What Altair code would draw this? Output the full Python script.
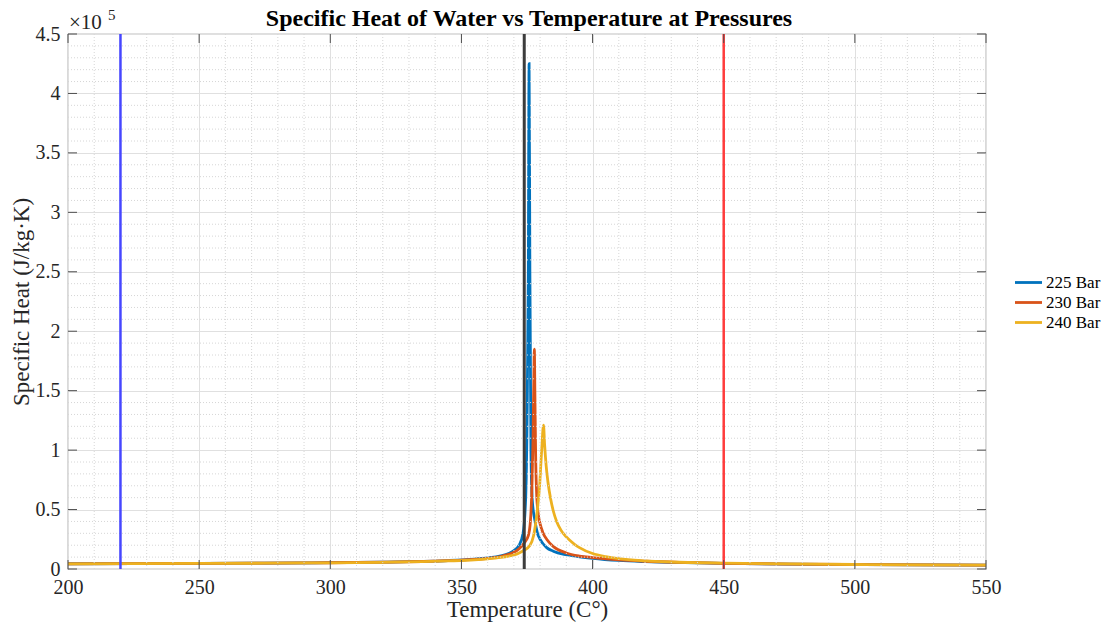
import altair as alt
import pandas as pd

# ---------------- data ----------------
pressures = ["225 Bar", "230 Bar", "240 Bar"]
series_colors = ["#0072BD", "#D95319", "#EDB120"]

t_225 = [200, 225, 250, 275, 300, 320, 335, 345, 355, 360, 365, 368, 370, 372, 373.5,
         374.5, 375.0, 375.5, 375.8, 376.1, 376.5, 377.0, 378.0, 379.0, 380.0,
         382.5, 385, 390, 395, 400, 410, 420, 435, 450, 475, 500, 525, 550]
cp_225 = [4400, 4500, 4700, 4950, 5300, 5800, 6400, 7100, 8300, 9300, 11000, 13000, 15500, 20000, 30000,
          60000, 120000, 250000, 425000, 250000, 100000, 58000, 41000, 30000, 25000,
          18000, 15000, 12000, 10300, 9000, 7200, 6200, 5300, 4700, 4100, 3700, 3400, 3200]

t_230 = [200, 225, 250, 275, 300, 320, 335, 345, 355, 360, 365, 368, 370, 372, 374,
         375.5, 376.3, 376.9, 377.3, 377.6, 377.8, 378.0, 378.3, 378.7, 379.3,
         380, 381, 382.5, 385, 390, 395, 400, 410, 420, 435, 450, 475, 500, 525, 550]
cp_230 = [4390, 4490, 4690, 4930, 5270, 5750, 6300, 7000, 8100, 9000, 10500, 12300, 14000, 17000, 22000,
          28000, 40000, 70000, 110000, 160000, 185000, 150000, 95000, 62000, 46000,
          38000, 31000, 25000, 19000, 13500, 10900, 9600, 7600, 6500, 5500, 4800, 4150, 3750, 3450, 3250]

t_240 = [200, 225, 250, 275, 300, 320, 335, 345, 355, 360, 365, 368, 370, 372, 374,
         376, 377.5, 378.7, 379.8, 380.6, 381.3, 381.7, 382.3, 383, 384,
         385, 386.3, 388, 390, 393, 395, 400, 405, 410, 420, 430, 450, 475, 500, 525, 550]
cp_240 = [4370, 4460, 4650, 4880, 5200, 5650, 6150, 6800, 7700, 8500, 9700, 10800, 11800, 13500, 16000,
          19500, 28000, 45000, 70000, 100000, 121000, 105000, 87000, 73000, 59000,
          49000, 40000, 32500, 27000, 21000, 18000, 13000, 10400, 8700, 6900, 5900, 4950, 4250, 3800, 3500, 3300]

ref_temps = [220, 373.95, 450]
ref_names = ["a", "b", "c"]
ref_colors = ["#4646ff", "#3c3c3c", "#ff3c3c"]
ref_widths = [2.5, 3, 2.5]

x_major = [200, 250, 300, 350, 400, 450, 500, 550]
y_major = [0, 0.5, 1, 1.5, 2, 2.5, 3, 3.5, 4, 4.5]
x_minor = [t for t in range(200, 551, 10) if t % 50 != 0]
y_minor = [round(v * 0.1, 1) for v in range(0, 46) if v % 5 != 0]

title_text = "Specific Heat of Water vs Temperature at Pressures"

W, H = 918, 535
FONT = "Liberation Serif"

# ---------------- tables ----------------
rows = []
for name, ts, cps in [(pressures[0], t_225, cp_225), (pressures[1], t_230, cp_230), (pressures[2], t_240, cp_240)]:
    for t, c in zip(ts, cps):
        rows.append({"T": t, "cp": c, "P": name})
df = pd.DataFrame(rows)

xs = alt.Scale(domain=[200, 550], nice=False, zero=False)
ys = alt.Scale(domain=[0, 4.5], nice=False)

axis_style = dict(grid=True, gridColor="#e0e0e0", domain=False, ticks=False,
                  labelFont=FONT, labelFontSize=20, labelColor="#262626",
                  titleFont=FONT, titleFontSize=23, titleFontWeight="normal", titleColor="#262626")
x_axis = alt.Axis(title="Temperature (C°)", values=x_major, format="d", labelFlush=False,
                  labelPadding=8, titlePadding=1, **axis_style)
y_axis = alt.Axis(title="Specific Heat (J/kg·K)", values=y_major, format=".1~f", labelFlush=False,
                  labelPadding=8, titlePadding=2, **axis_style)

lines = alt.Chart(df).transform_calculate(
    cpx="datum.cp / 100000"
).mark_line(strokeWidth=2.8, interpolate="monotone").encode(
    x=alt.X("T:Q", scale=xs, axis=x_axis),
    y=alt.Y("cpx:Q", scale=ys, axis=y_axis),
    color=alt.Color("P:N", scale=alt.Scale(domain=pressures, range=series_colors),
                    legend=alt.Legend(orient="none", legendX=950, legendY=238, title=None,
                                      symbolType="M-1.5,0L1.5,0", symbolSize=324,
                                      symbolStrokeWidth=2.8, symbolFillColor="transparent",
                                      labelFont=FONT, labelFontSize=17, labelColor="#000000",
                                      labelOffset=7, rowPadding=1, padding=0)),
    order=alt.Order("T:Q"),
)

minor_x = alt.Chart(pd.DataFrame({"T": x_minor})).mark_rule(
    color="#d6d6d6", strokeWidth=1, strokeDash=[1, 2]
).encode(x=alt.X("T:Q", scale=xs, axis=x_axis), y=alt.value(0), y2=alt.value(H))

minor_y = alt.Chart(pd.DataFrame({"cpx": y_minor})).mark_rule(
    color="#d6d6d6", strokeWidth=1, strokeDash=[1, 2]
).encode(y=alt.Y("cpx:Q", scale=ys, axis=y_axis), x=alt.value(0), x2=alt.value(W))

refs = alt.Chart(pd.DataFrame({"T": ref_temps, "n": ref_names, "w": ref_widths})).mark_rule().encode(
    x=alt.X("T:Q", scale=xs, axis=x_axis),
    y=alt.value(0), y2=alt.value(H),
    stroke=alt.Stroke("n:N", scale=alt.Scale(domain=ref_names, range=ref_colors), legend=None),
    strokeWidth=alt.StrokeWidth("w:Q", scale=None),
)

tick_col = "#4d4d4d"
xt = pd.DataFrame({"T": x_major})
yt = pd.DataFrame({"cpx": y_major})
ticks_bottom = alt.Chart(xt).mark_rule(color=tick_col).encode(
    x=alt.X("T:Q", scale=xs, axis=x_axis), y=alt.value(H), y2=alt.value(H - 9))
ticks_top = alt.Chart(xt).mark_rule(color=tick_col).encode(
    x=alt.X("T:Q", scale=xs, axis=x_axis), y=alt.value(0), y2=alt.value(9))
ticks_left = alt.Chart(yt).mark_rule(color=tick_col).encode(
    y=alt.Y("cpx:Q", scale=ys, axis=y_axis), x=alt.value(0), x2=alt.value(9))
ticks_right = alt.Chart(yt).mark_rule(color=tick_col).encode(
    y=alt.Y("cpx:Q", scale=ys, axis=y_axis), x=alt.value(W), x2=alt.value(W - 9))

exp_base = alt.Chart(pd.DataFrame({"s": ["×10"]})).mark_text(
    font=FONT, fontSize=21, color="#262626", align="left", baseline="alphabetic"
).encode(text="s:N", x=alt.value(1), y=alt.value(-5))
exp_pow = alt.Chart(pd.DataFrame({"s": ["5"]})).mark_text(
    font=FONT, fontSize=15, color="#262626", align="left", baseline="alphabetic"
).encode(text="s:N", x=alt.value(40), y=alt.value(-14))

title_mark = alt.Chart(pd.DataFrame({"s": [title_text]})).mark_text(
    font=FONT, fontSize=24, fontWeight="bold", color="#000000", align="center", baseline="alphabetic"
).encode(text="s:N", x=alt.value(W / 2 + 2), y=alt.value(-8))

chart = alt.layer(
    lines, minor_x, minor_y, refs, ticks_bottom, ticks_top, ticks_left, ticks_right,
    exp_base, exp_pow, title_mark
).resolve_scale(color="independent").properties(
    width=W, height=H,
    background="white",
    autosize=alt.AutoSizeParams(type="none"),
    padding={"left": 60, "top": 26, "right": 116, "bottom": 56},
).configure_view(stroke="#808080", strokeWidth=1.2).configure_legend(
    labelFont=FONT, labelFontSize=17, labelColor="#000000"
)

chart.save("out.html", embed_options={"renderer": "svg", "actions": False})
